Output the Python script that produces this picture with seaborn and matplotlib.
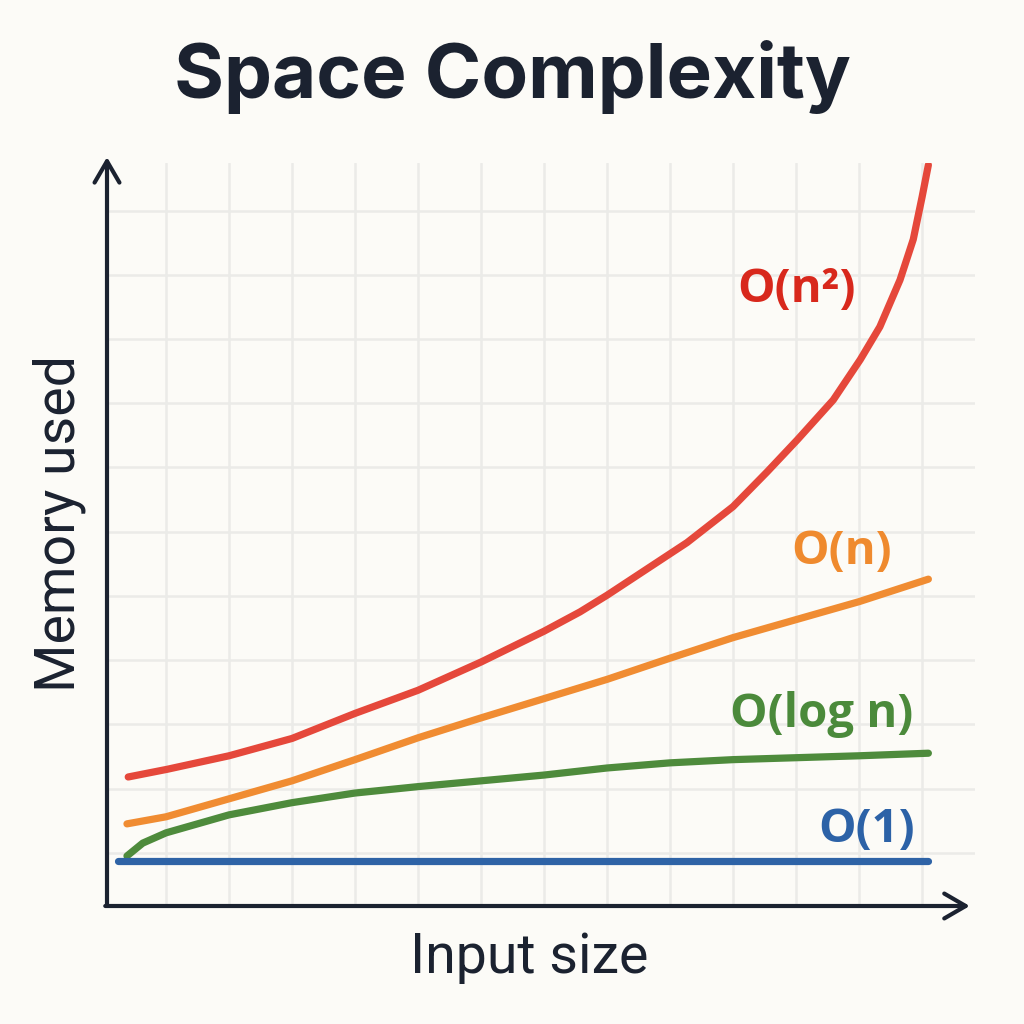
import matplotlib
matplotlib.use("Agg")
import matplotlib.pyplot as plt
import pandas as pd
import seaborn as sns


BACKGROUND = "#fcfbf7"
INK = "#1b2230"

# values (x = input size, y = memory, grid units)
red_x = [0.40, 1.02, 2.0, 3.0, 4.0, 5.0, 6.0, 7.0, 7.57, 8.0, 9.27, 10.0, 10.54,
         11.02, 11.59, 12.02, 12.33, 12.65, 12.86, 13.0, 13.1]
red_y = [2.18, 2.30, 2.51, 2.78, 3.17, 3.53, 3.97, 4.45, 4.75, 5.01, 5.83, 6.39, 6.93,
         7.43, 8.05, 8.68, 9.19, 9.92, 10.55, 11.21, 11.71]

orange_x = [0.38, 1, 2, 3, 4, 5, 6, 7, 8, 9, 10, 11, 12, 13.1]
orange_y = [1.45, 1.56, 1.84, 2.12, 2.45, 2.79, 3.10, 3.40, 3.70, 4.03, 4.35, 4.63, 4.91, 5.26]

green_x = [0.38, 0.63, 1, 2, 3, 4, 5, 6, 7, 8, 9, 10, 11, 12, 13.1]
green_y = [0.95, 1.15, 1.31, 1.59, 1.78, 1.93, 2.03, 2.12, 2.21, 2.32, 2.40, 2.45, 2.48, 2.51, 2.55]

blue_x = [0.24, 13.1]
blue_y = [0.87, 0.87]

labels = ["O(n²)", "O(n)", "O(log n)", "O(1)"]
line_colors = ["#e5483b", "#f08c32", "#4e8b3c", "#2e63a6"]
text_colors = ["#d8281c", "#ef8a2e", "#4b8a3b", "#2c62a7"]
label_x = [11.94, 12.52, 12.86, 12.89]
label_y = [9.77, 5.69, 3.16, 1.36]

x_ticks = list(range(1, 14))
y_ticks = list(range(1, 12))


def build_frame():
    parts = [
        pd.DataFrame({"n": red_x, "memory": red_y, "complexity": labels[0]}),
        pd.DataFrame({"n": orange_x, "memory": orange_y, "complexity": labels[1]}),
        pd.DataFrame({"n": green_x, "memory": green_y, "complexity": labels[2]}),
        pd.DataFrame({"n": blue_x, "memory": blue_y, "complexity": labels[3]}),
    ]
    return pd.concat(parts, ignore_index=True)


def main():
    df = build_frame()

    sns.set_theme(style="whitegrid")
    plt.rcParams["figure.facecolor"] = BACKGROUND
    plt.rcParams["axes.facecolor"] = BACKGROUND
    plt.rcParams["grid.color"] = "#ebebe8"
    plt.rcParams["grid.linewidth"] = 1.8

    fig = plt.figure(figsize=(10.24, 10.24), dpi=100)
    ax = fig.add_axes([107 / 1024, 118 / 1024, 868 / 1024, 743 / 1024])

    sns.lineplot(
        data=df,
        x="n",
        y="memory",
        hue="complexity",
        hue_order=labels,
        palette=dict(zip(labels, line_colors)),
        estimator=None,
        sort=False,
        linewidth=5.2,
        solid_capstyle="round",
        solid_joinstyle="round",
        legend=False,
        ax=ax,
    )

    ax.set_xlim(0.063, 13.84)
    ax.set_ylim(0.171, 11.74)
    ax.set_xticks(x_ticks)
    ax.set_yticks(y_ticks)
    ax.tick_params(length=0, labelbottom=False, labelleft=False)
    ax.set_xlabel("")
    ax.set_ylabel("")
    for spine in ax.spines.values():
        spine.set_visible(False)

    arrow = dict(arrowstyle="->,head_length=0.55,head_width=0.32",
                 color=INK, lw=3.0, mutation_scale=28,
                 shrinkA=0, shrinkB=0, capstyle="round")
    ax.annotate("", xy=(0, 1.008), xytext=(0, 0), xycoords="axes fraction",
                arrowprops=arrow, annotation_clip=False)
    ax.annotate("", xy=(0.994, 0), xytext=(-0.002, 0), xycoords="axes fraction",
                arrowprops=arrow, annotation_clip=False)

    for text, color, tx, ty in zip(labels, text_colors, label_x, label_y):
        ax.text(tx, ty, text, color=color, ha="right", va="center",
                fontsize=34, fontweight="bold", family=["Open Sans", "DejaVu Sans"])

    fig.text(0.5, 1 - 98 / 1024, "Space Complexity", ha="center", va="baseline",
             fontsize=55, fontweight="bold", color=INK, family=["Inter", "DejaVu Sans"])
    fig.text(529 / 1024, 1 - 973 / 1024, "Input size", ha="center", va="baseline",
             fontsize=40, color=INK, family=["Roboto", "DejaVu Sans"])
    fig.text(75 / 1024, 1 - 523 / 1024, "Memory used", ha="center", va="baseline",
             rotation=90, rotation_mode="anchor",
             fontsize=40, color=INK, family=["Roboto", "DejaVu Sans"])

    fig.savefig("out.png", dpi=100, facecolor=BACKGROUND)
    plt.close(fig)


if __name__ == "__main__":
    main()
